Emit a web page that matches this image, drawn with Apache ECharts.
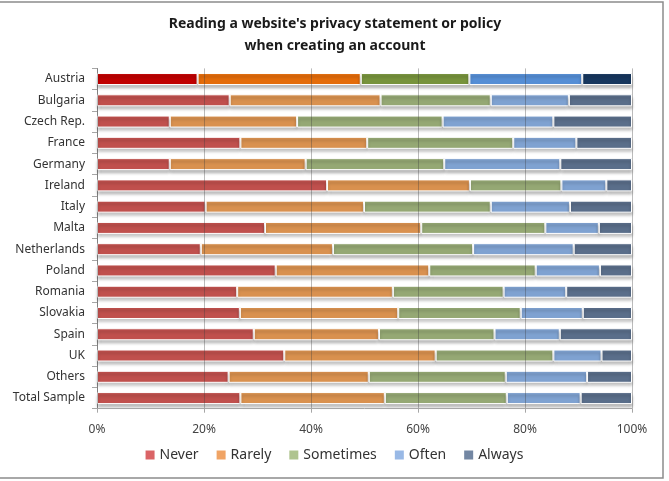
<!DOCTYPE html>
<html>
<head>
<meta charset="utf-8">
<script src="https://cdn.jsdelivr.net/npm/echarts@6/dist/echarts.min.js"></script>
<style>
  html, body { margin: 0; padding: 0; background: #fff; }
  #chart { width: 669px; height: 481px; }
</style>
</head>
<body>
<div id="chart"></div>
<script>
// Countries, top to bottom
const countries = ['Austria', 'Bulgaria', 'Czech Rep.', 'France', 'Germany', 'Ireland', 'Italy', 'Malta',
  'Netherlands', 'Poland', 'Romania', 'Slovakia', 'Spain', 'UK', 'Others', 'Total Sample'];

// Share of respondents (%) per answer
const never     = [18.8, 24.8, 13.6, 26.8, 13.6, 43.0, 20.3, 31.4, 19.4, 33.4, 26.2, 26.7, 29.3, 35.0, 24.6, 26.8];
const rarely    = [30.5, 28.2, 23.8, 23.7, 25.4, 26.7, 29.6, 29.2, 24.7, 28.7, 29.1, 29.6, 23.4, 28.3, 26.2, 27.0];
const sometimes = [20.3, 20.6, 27.2, 27.3, 25.9, 17.1, 23.7, 23.2, 26.2, 19.9, 20.7, 22.9, 21.6, 22.0, 25.6, 22.8];
const often     = [21.1, 14.6, 20.7, 11.8, 21.7,  8.4, 14.8, 10.0, 18.8, 12.0, 11.7, 11.6, 12.2,  9.0, 15.2, 13.8];
const always    = [ 9.3, 11.8, 14.7, 10.4, 13.4,  4.8, 11.6,  6.2, 10.9,  6.0, 12.3,  9.2, 13.5,  5.7,  8.4,  9.6];

const xTicks = [0, 20, 40, 60, 80, 100];

const seriesDefs = [
  { name: 'Never',     values: never,     color: '#C0504D', legend: '#DA6466', strong: '#C00000' },
  { name: 'Rarely',    values: rarely,    color: '#D9914F', legend: '#F0A465', strong: '#E46C0A' },
  { name: 'Sometimes', values: sometimes, color: '#95A874', legend: '#AFC48F', strong: '#77933C' },
  { name: 'Often',     values: often,     color: '#7FA2D1', legend: '#99B9E6', strong: '#558ED5' },
  { name: 'Always',    values: always,    color: '#5A6E8A', legend: '#7387A3', strong: '#17375E' }
];

const highlight = 'Austria';
const font = '"Noto Sans", "Open Sans", sans-serif';

const chart = echarts.init(document.getElementById('chart'), null, { renderer: 'canvas' });

chart.setOption({
  animation: false,
  backgroundColor: '#ffffff',
  title: {
    text: "Reading a website's privacy statement or policy\nwhen creating an account",
    left: 330,
    textAlign: 'center',
    top: 8,
    textStyle: { fontFamily: font, fontSize: 14, fontWeight: 'bold', color: '#1a1a1a', lineHeight: 22 }
  },
  legend: {
    bottom: 14,
    left: 'center',
    itemWidth: 9,
    itemHeight: 9,
    itemGap: 18,
    icon: 'rect',
    textStyle: { fontFamily: font, fontSize: 14, color: '#333' },
    data: seriesDefs.map(s => ({ name: s.name, itemStyle: { color: s.legend, borderWidth: 0, shadowBlur: 0 } }))
  },
  grid: { left: 97, right: 37, top: 68.4, bottom: 72.3, containLabel: false },
  xAxis: {
    type: 'value',
    min: 0,
    max: 100,
    interval: 20,
    z: 5,
    axisLine: { show: true, lineStyle: { color: '#a6a6a6' } },
    axisTick: { show: true, length: 4, lineStyle: { color: '#a6a6a6' } },
    splitLine: { show: true, lineStyle: { color: 'rgba(60,60,60,0.35)', width: 1 } },
    axisLabel: {
      fontFamily: font, fontSize: 12, color: '#444', margin: 15,
      formatter: v => xTicks.includes(v) ? v + '%' : ''
    }
  },
  yAxis: {
    type: 'category',
    inverse: true,
    data: countries,
    axisLine: { show: true, lineStyle: { color: '#a6a6a6' } },
    axisTick: { show: true, length: 5, inside: false, lineStyle: { color: '#a6a6a6' } },
    axisLabel: { fontFamily: font, fontSize: 12, color: '#333', margin: 12 }
  },
  series: seriesDefs.map(s => ({
    name: s.name,
    type: 'bar',
    stack: 'total',
    barWidth: 12,
    itemStyle: {
      color: s.color,
      borderColor: '#ffffff',
      borderWidth: 1,
      shadowColor: 'rgba(0,0,0,0.28)',
      shadowBlur: 3,
      shadowOffsetY: 3
    },
    data: s.values.map((v, i) => countries[i] === highlight
      ? { value: v, itemStyle: { color: s.strong } }
      : v)
  })),
  graphic: [{
    type: 'rect',
    shape: { x: -5, y: 2, width: 668, height: 476 },
    style: { fill: 'none', stroke: '#8c8c8c', lineWidth: 1.5 },
    silent: true,
    z: 100
  }]
});
</script>
</body>
</html>
